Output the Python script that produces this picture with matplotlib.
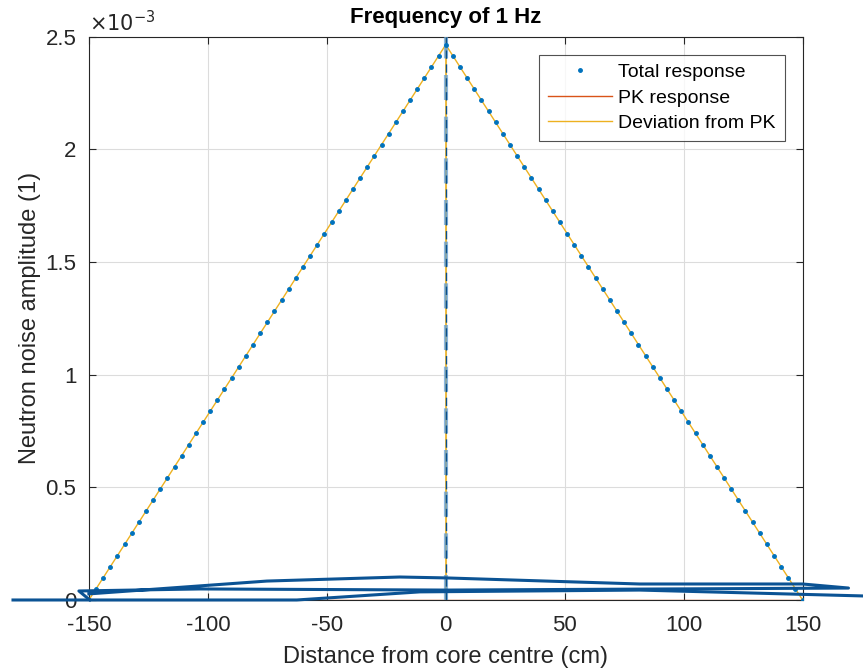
import numpy as np
import matplotlib
matplotlib.use("Agg")
from matplotlib import pyplot as plt
from matplotlib.ticker import FuncFormatter

plt.rcParams['font.family'] = ['Liberation Sans', 'DejaVu Sans']
plt.rcParams['axes.unicode_minus'] = False

# total response sampled every 3 cm across the core
x = np.arange(-150, 151, 3)
peak = 2.465e-3
total = peak * (1 - np.abs(x) / 150.0)
pk = np.zeros_like(x, dtype=float)
deviation = total - pk

# stray trace drawn along the bottom (not clipped)
stray_x = [-181.9, -62.6, -10.9, 81.5, 175.2]
stray_y = [0.0, 0.0, 3.6e-5, 4.4e-5, 1.8e-5]
loop_x = [-149.6, -154.2, -103.4, 0.0, 169.3, 150.0, 81.5, 0.0, -19.3, -75.2, -150.0]
loop_y = [0.0, 4.0e-5, 4.9e-5, 4.4e-5, 5.3e-5, 7.1e-5, 7.1e-5, 9.8e-5, 1.02e-4, 8.4e-5, 2.7e-5]

fig = plt.figure(figsize=(8.63, 6.70), dpi=100)
ax = fig.add_axes([0.103, 0.1045, 0.827, 0.8405])

ax.plot(x, total, '.', color='#0072BD', markersize=5, label='Total response', zorder=4)
ax.plot(x, pk, '-', color='#D95319', lw=1, label='PK response', zorder=3)
ax.plot(x, deviation, '-', color='#EDB120', lw=1, label='Deviation from PK', zorder=3)

# centre line
ax.plot([0, 0], [0, 2.5e-3], color='#EDB120', lw=1.2, zorder=3)
ax.plot([0, 0], [0, 2.5e-3], '--', color='#5b9bd5', lw=3, alpha=0.7, dashes=(6, 4), zorder=3)
ax.plot([0, 0], [0, 2.5e-3], '--', color='#0b4f8a', lw=1, dashes=(6, 4), zorder=3)

ax.plot(stray_x, stray_y, color='#0b5394', lw=2.2, clip_on=False, zorder=5)
ax.plot(loop_x, loop_y, color='#0b5394', lw=2.2, clip_on=False, zorder=5)

ax.set_xlim(-150, 150)
ax.set_ylim(0, 2.5e-3)
ax.set_xticks(np.arange(-150, 151, 50))
ax.set_yticks(np.arange(0, 2.51e-3, 0.5e-3))
ax.yaxis.set_major_formatter(FuncFormatter(lambda v, p: '%g' % round(v * 1e3, 3)))

ax.grid(True, color='#dcdcdc', lw=0.8)
ax.set_axisbelow(True)
ax.tick_params(direction='in', length=5, labelsize=16, top=True, right=True,
               color='#262626', labelcolor='#262626')
ax.tick_params(axis='x', pad=11)
ax.tick_params(axis='y', pad=9)
for s in ax.spines.values():
    s.set_color('#262626')
    s.set_linewidth(0.8)

ax.set_xlabel('Distance from core centre (cm)', fontsize=17, color='#262626', labelpad=7)
ax.set_ylabel('Neutron noise amplitude (1)', fontsize=17, color='#262626', labelpad=3)
ax.set_title('Frequency of 1 Hz', fontsize=16, fontweight='bold', pad=10)
ax.text(0.0, 1.003, r'$\times10^{-3}$', transform=ax.transAxes, fontsize=15,
        color='#262626', va='bottom', ha='left')

leg = ax.legend(loc='upper right', bbox_to_anchor=(0.975, 0.968), borderaxespad=0,
                fontsize=14, frameon=True, fancybox=False, edgecolor='#262626',
                handlelength=3.3, borderpad=0.45, labelspacing=0.4, handletextpad=0.35)
leg.get_frame().set_linewidth(0.8)

fig.savefig('out.png', dpi=100)
